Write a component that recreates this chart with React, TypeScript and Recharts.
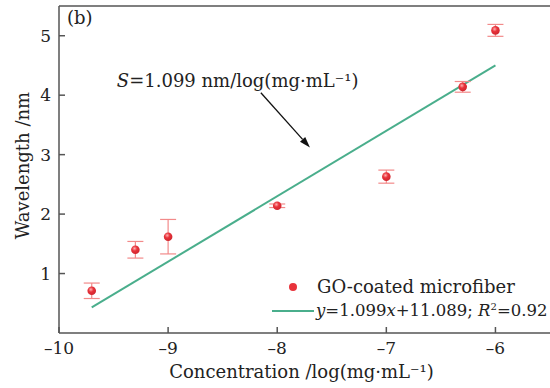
import React from "react";
import {
  ComposedChart,
  XAxis,
  YAxis,
  Scatter,
  ErrorBar,
  Line,
  ReferenceLine,
} from "recharts";

const concentration = [-9.7, -9.3, -9, -8, -7, -6.3, -6];
const wavelength = [0.71, 1.4, 1.62, 2.14, 2.63, 4.14, 5.09];
const wavelengthErr = [0.13, 0.14, 0.29, 0.03, 0.11, 0.09, 0.1];
const fitX = [-9.7, -6];
const fitY = [0.43, 4.5];
const xTicks = [-10, -9, -8, -7, -6];
const yTicks = [1, 2, 3, 4, 5];

const points = concentration.map((x, i) => ({ x, y: wavelength[i], err: wavelengthErr[i] }));
const fitData = fitX.map((x, i) => ({ x, y: fitY[i] }));

const FONT = "'DejaVu Serif', serif";
const AXIS = "#555555";
const RED = "#e8333b";
const ERR = "#f28a8a";
const GREEN = "#4aae8c";

const dash = (v: number) => (v < 0 ? "\u2013" + Math.abs(v) : String(v));

const Ball = (props: any) => {
  const { cx, cy } = props;
  if (cx == null || cy == null) return null;
  return <circle cx={cx} cy={cy} r={4.3} fill="url(#ballGrad)" />;
};

const Arrow = (props: any) => {
  const { x1, y1, x2, y2 } = props;
  if (x1 == null) return null;
  const ang = Math.atan2(y2 - y1, x2 - x1);
  const len = 11;
  const w = 3.5;
  const bx = x2 - len * Math.cos(ang);
  const by = y2 - len * Math.sin(ang);
  const px = -Math.sin(ang) * w;
  const py = Math.cos(ang) * w;
  return (
    <g>
      <line x1={x1} y1={y1} x2={bx} y2={by} stroke="#111" strokeWidth={1.3} />
      <polygon
        points={`${x2},${y2} ${bx + px},${by + py} ${bx - px},${by - py}`}
        fill="#111"
      />
      <text x={x1 - 144} y={y1 - 6} fontFamily={FONT} fontSize={18} fill="#222">
        <tspan fontStyle="italic">S</tspan>
        <tspan>=1.099 nm/log(mg·mL⁻¹)</tspan>
      </text>
    </g>
  );
};

export default function App() {
  return (
    <div style={{ position: "absolute", left: 0, top: 0, width: 550, height: 388, background: "#fff" }}>
      <ComposedChart
        width={550}
        height={388}
        margin={{ top: 6, right: 0, left: 0, bottom: 0 }}
        style={{ fontFamily: FONT }}
      >
        <defs>
          <radialGradient id="ballGrad" cx="40%" cy="35%" r="65%">
            <stop offset="0%" stopColor="#ffb0b0" />
            <stop offset="45%" stopColor={RED} />
            <stop offset="100%" stopColor="#d0262e" />
          </radialGradient>
        </defs>
        <XAxis
          type="number"
          dataKey="x"
          domain={[-10, -5.5]}
          ticks={xTicks}
          tickFormatter={dash}
          height={55}
          stroke={AXIS}
          strokeWidth={1.5}
          tickSize={-6}
          tickMargin={15}
          tick={{ fill: "#222", fontSize: 17, fontFamily: FONT }}
          label={{
            content: (p: any) => (
              <text
                x={p.viewBox.x + p.viewBox.width / 2 - 3}
                y={p.viewBox.y + 45}
                textAnchor="middle"
                fontFamily={FONT}
                fontSize={18}
                fill="#222"
              >
                Concentration /log(mg·mL⁻¹)
              </text>
            ),
          }}
        />
        <YAxis
          type="number"
          dataKey="y"
          domain={[0, 5.5]}
          ticks={yTicks}
          width={59}
          stroke={AXIS}
          strokeWidth={1.5}
          tickSize={-6}
          tickMargin={14}
          tick={{ fill: "#222", fontSize: 17, fontFamily: FONT }}
          label={{
            content: (p: any) => {
              const cx = 22;
              const cy = p.viewBox.y + p.viewBox.height / 2 - 4;
              return (
                <text
                  x={cx}
                  y={cy}
                  transform={`rotate(-90, ${cx}, ${cy})`}
                  textAnchor="middle"
                  dominantBaseline="central"
                  fontFamily={FONT}
                  fontSize={18}
                  fill="#222"
                >
                  Wavelength /nm
                </text>
              );
            },
          }}
        />
        <ReferenceLine y={5.5} stroke={AXIS} strokeWidth={1.5} />
        <ReferenceLine
          segment={[
            { x: -8.15, y: 4.04 },
            { x: -7.7, y: 3.12 },
          ]}
          shape={<Arrow />}
        />
        <Line
          data={fitData}
          dataKey="y"
          stroke={GREEN}
          strokeWidth={2}
          dot={false}
          activeDot={false}
          isAnimationActive={false}
        />
        <Scatter data={points} dataKey="y" shape={<Ball />} isAnimationActive={false}>
          <ErrorBar dataKey="err" direction="y" width={8} stroke={ERR} strokeWidth={1.2} />
        </Scatter>
      </ComposedChart>
      <div
        style={{
          position: "absolute",
          left: 67,
          top: 7,
          fontFamily: FONT,
          fontSize: 18,
          color: "#222",
          lineHeight: "22px",
        }}
      >
        (b)
      </div>
      <div
        style={{
          position: "absolute",
          left: 272,
          top: 275,
          fontFamily: FONT,
          fontSize: 18,
          color: "#222",
          lineHeight: "24px",
          whiteSpace: "nowrap",
        }}
      >
        <div style={{ display: "flex", alignItems: "center" }}>
          <span style={{ width: 42, display: "inline-flex", justifyContent: "center" }}>
            <span style={{ width: 8, height: 8, borderRadius: 4, background: RED, display: "inline-block" }} />
          </span>
          <span style={{ marginLeft: 3 }}>GO-coated microfiber</span>
        </div>
        <div style={{ display: "flex", alignItems: "center", fontSize: 16.5 }}>
          <span style={{ width: 42, height: 2, background: GREEN, display: "inline-block" }} />
          <span style={{ marginLeft: 2 }}>
            <i>y</i>=1.099<i>x</i>+11.089; <i>R</i>
            <sup style={{ fontSize: 10, lineHeight: 0 }}>2</sup>=0.92
          </span>
        </div>
      </div>
    </div>
  );
}
